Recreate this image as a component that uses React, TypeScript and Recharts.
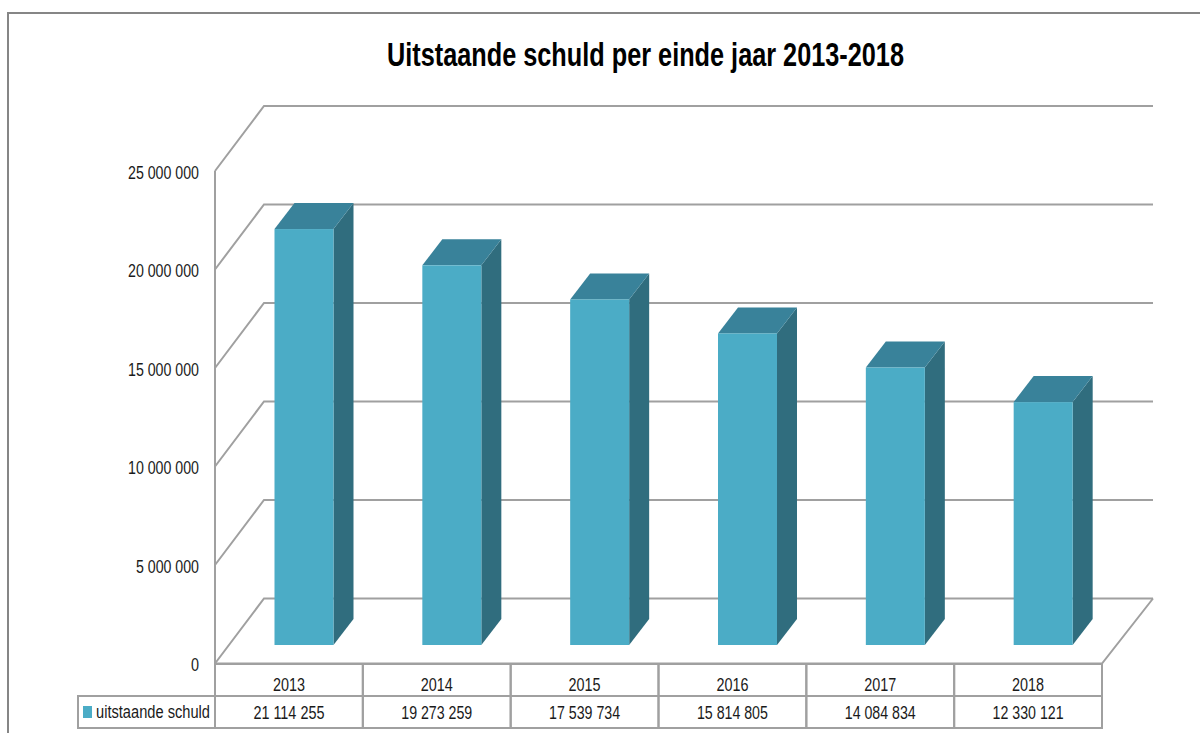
import { Bar, BarChart, CartesianGrid, XAxis, YAxis } from "recharts";

const YEARS = ["2013", "2014", "2015", "2016", "2017", "2018"];
const OUTSTANDING_DEBT = [21114255, 19273259, 17539734, 15814805, 14084834, 12330121];
const Y_TICKS = [0, 5000000, 10000000, 15000000, 20000000, 25000000];
const SERIES_NAME = "uitstaande schuld";
const TITLE = "Uitstaande schuld per einde jaar 2013-2018";

const FONT = "'Liberation Sans', sans-serif";
const LINE_COLOR = "#a0a0a0";
const LINE_WIDTH = 2;
const FRONT_COLOR = "#4bacc6";
const TOP_COLOR = "#39829a";
const SIDE_COLOR = "#306d7e";
const TEXT_COLOR = "#1a1a1a";

const CHART_WIDTH = 1200;
const MARGIN_LEFT = 115;
const MARGIN_RIGHT = 98;
const Y_AXIS_WIDTH = 100;

// Depth of the fake 3D box, measured off the back wall of the reference.
const WALL_DX = 49;
const WALL_DY = -65;
const FLOOR_DX = 51;
const BAR_DX = 20;
const BAR_DY = -26;
const BAR_SHIFT_X = 15.5;
const BAR_SHIFT_Y = -18.5;
const BAND_WIDTH =
  (CHART_WIDTH - MARGIN_LEFT - MARGIN_RIGHT - Y_AXIS_WIDTH) / YEARS.length;

const chartData = YEARS.map((year, index) => ({
  year,
  debt: OUTSTANDING_DEBT[index],
  label: formatNumber(OUTSTANDING_DEBT[index]),
}));

function formatNumber(value: number): string {
  return String(value).replace(/\B(?=(\d{3})+(?!\d))/g, " ");
}

// No narrow font is installed, so the numbers get squeezed to the width they have in the reference.
function numberWidth(text: string): number {
  const spaces = text.split(" ").length - 1;
  return (text.length - spaces) * 8 + spaces * 3.5;
}

const NumberText = ({ x, y, textAnchor, children }: any) => (
  <text
    x={x}
    y={y}
    textAnchor={textAnchor}
    fontFamily={FONT}
    fontSize={17.5}
    fill={TEXT_COLOR}
    textLength={numberWidth(children)}
    lengthAdjust="spacingAndGlyphs"
  >
    {children}
  </text>
);

const Bar3D = ({ x, y, width, height }: any) => {
  const left = x + BAR_SHIFT_X;
  const right = left + width;
  const top = y + BAR_SHIFT_Y;
  const bottom = top + height;

  return (
    <g>
      <polygon
        points={`${right},${top} ${right + BAR_DX},${top + BAR_DY} ${right + BAR_DX},${bottom + BAR_DY} ${right},${bottom}`}
        fill={SIDE_COLOR}
      />
      <polygon
        points={`${left},${top} ${left + BAR_DX},${top + BAR_DY} ${right + BAR_DX},${top + BAR_DY} ${right},${top}`}
        fill={TOP_COLOR}
      />
      <rect x={left} y={top} width={width} height={height} fill={FRONT_COLOR} />
    </g>
  );
};

// Each grid line becomes a wall line: diagonal on the side wall, then straight along the back.
const WallLine = ({ x1, x2, y1, index }: any) => {
  const backY = y1 + WALL_DY;
  return (
    <g fill="none" stroke={LINE_COLOR} strokeWidth={LINE_WIDTH}>
      <polyline
        points={`${x1},${y1} ${x1 + WALL_DX},${backY} ${x2 + FLOOR_DX},${backY}`}
      />
      {index === 0 && (
        <polyline points={`${x1},${y1} ${x2},${y1} ${x2 + FLOOR_DX},${backY}`} />
      )}
    </g>
  );
};

const ValueAxisTick = ({ x, y, payload }: any) => (
  <NumberText x={x - 8} y={y + 7.5} textAnchor="end">
    {formatNumber(payload.value)}
  </NumberText>
);

const TableCell = ({ x, top, textY, text }: any) => (
  <g>
    <rect
      x={x - BAND_WIDTH / 2}
      y={top}
      width={BAND_WIDTH}
      height={32}
      fill="none"
      stroke={LINE_COLOR}
      strokeWidth={LINE_WIDTH}
    />
    <NumberText x={x} y={textY} textAnchor="middle">
      {text}
    </NumberText>
  </g>
);

const YearTick = ({ x, payload }: any) => (
  <TableCell x={x} top={664} textY={691} text={payload.value} />
);

const DebtTick = ({ x, payload, index }: any) => (
  <g>
    <TableCell x={x} top={696} textY={719} text={payload.value} />
    {index === 0 && (
      <g>
        <rect
          x={78}
          y={696}
          width={x - BAND_WIDTH / 2 - 78}
          height={32}
          fill="none"
          stroke={LINE_COLOR}
          strokeWidth={LINE_WIDTH}
        />
        <rect x={83} y={706} width={9} height={12} fill={FRONT_COLOR} />
        <text
          x={96}
          y={718}
          fontFamily={FONT}
          fontSize={17.5}
          fill={TEXT_COLOR}
          textLength={114}
          lengthAdjust="spacingAndGlyphs"
        >
          {SERIES_NAME}
        </text>
      </g>
    )}
  </g>
);

export default function App() {
  return (
    <div
      style={{
        position: "absolute",
        left: 0,
        top: 0,
        width: 1200,
        height: 733,
        overflow: "hidden",
        background: "#fff",
      }}
    >
      <div
        style={{
          position: "absolute",
          left: 7,
          top: 12,
          width: 1300,
          height: 800,
          borderLeft: "2px solid #868686",
          borderTop: "2px solid #868686",
        }}
      />
      <svg
        width={1200}
        height={80}
        style={{ position: "absolute", left: 0, top: 0 }}
      >
        <text
          x={387}
          y={66}
          fontFamily={FONT}
          fontWeight="bold"
          fontSize={33}
          fill="#000"
          textLength={517}
          lengthAdjust="spacingAndGlyphs"
        >
          {TITLE}
        </text>
      </svg>
      <div style={{ position: "absolute", left: 0, top: 0 }}>
        <BarChart
          width={CHART_WIDTH}
          height={733}
          data={chartData}
          margin={{ top: 171, right: MARGIN_RIGHT, bottom: 5.5, left: MARGIN_LEFT }}
          style={{ overflow: "visible" }}
        >
          <CartesianGrid
            vertical={false}
            horizontal={(props: any) => <WallLine key={props.key} {...props} />}
          />
          <XAxis
            xAxisId="year"
            dataKey="year"
            height={32}
            axisLine={false}
            tickLine={false}
            interval={0}
            tick={YearTick}
          />
          <XAxis
            xAxisId="debt"
            dataKey="label"
            height={32}
            axisLine={false}
            tickLine={false}
            interval={0}
            tick={DebtTick}
          />
          <YAxis
            width={Y_AXIS_WIDTH}
            domain={[0, 25000000]}
            ticks={Y_TICKS}
            interval={0}
            axisLine={{ stroke: LINE_COLOR, strokeWidth: LINE_WIDTH }}
            tickLine={false}
            tick={ValueAxisTick}
          />
          <Bar
            xAxisId="year"
            dataKey="debt"
            barSize={59}
            fill={FRONT_COLOR}
            shape={Bar3D}
            isAnimationActive={false}
          />
        </BarChart>
      </div>
    </div>
  );
}
